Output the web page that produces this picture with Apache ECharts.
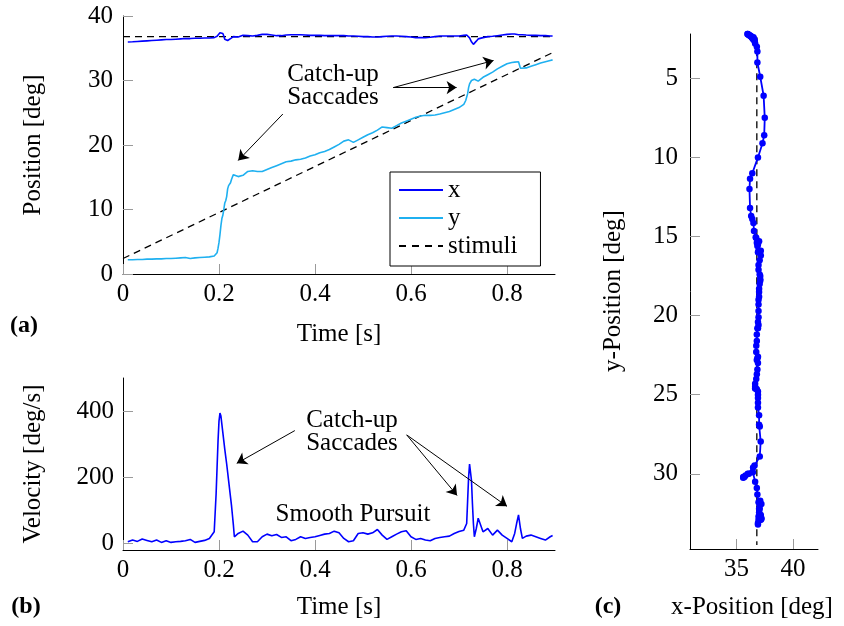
<!DOCTYPE html>
<html>
<head>
<meta charset="utf-8">
<script src="https://cdn.jsdelivr.net/npm/echarts@6/dist/echarts.min.js"></script>
<style>
html, body { margin: 0; padding: 0; background: #ffffff; }
#chart { width: 844px; height: 626px; }
</style>
</head>
<body>
<div id="chart"></div>
<script>
// Eye-tracking recording: sample times [s]
const timeS = [
  0.01, 0.02, 0.03, 0.04, 0.05, 0.06, 0.07, 0.08, 0.09, 0.10,
  0.11, 0.12, 0.13, 0.14, 0.15, 0.16, 0.17, 0.18, 0.19,
  0.194, 0.196, 0.198, 0.200, 0.202, 0.204, 0.206, 0.208, 0.210, 0.212,
  0.214, 0.216, 0.218, 0.220, 0.222, 0.224, 0.226, 0.228, 0.230, 0.232, 0.234,
  0.24, 0.25, 0.26, 0.27, 0.28, 0.29, 0.30, 0.31, 0.32, 0.33,
  0.34, 0.35, 0.36, 0.37, 0.38, 0.39, 0.40, 0.41, 0.42, 0.43,
  0.44, 0.45, 0.46, 0.47, 0.48, 0.49, 0.50, 0.51, 0.52, 0.53,
  0.54, 0.55, 0.56, 0.57, 0.58, 0.59, 0.60, 0.61, 0.62, 0.63,
  0.64, 0.65, 0.66, 0.67, 0.68, 0.69, 0.70, 0.71,
  0.714, 0.716, 0.718, 0.720, 0.722, 0.724, 0.726, 0.728, 0.730, 0.732, 0.734, 0.736,
  0.74, 0.75, 0.76, 0.77, 0.78, 0.79, 0.80, 0.81, 0.816, 0.820,
  0.824, 0.828, 0.832, 0.84, 0.85, 0.86, 0.87, 0.88, 0.89, 0.895
];

// Horizontal gaze position [deg]
const xPos = [
  35.97, 36.0, 36.05, 36.1, 36.15, 36.2, 36.25, 36.3, 36.35, 36.35,
  36.4, 36.45, 36.5, 36.5, 36.55, 36.55, 36.6, 36.6, 36.65,
  36.8, 36.85, 36.85, 37.1, 37.4, 37.5, 37.45, 37.3, 36.9, 36.4,
  36.2, 36.15, 36.2, 36.3, 36.4, 36.5, 36.55, 36.7, 36.8, 36.85, 36.9,
  36.75, 37.0, 36.95, 36.9, 37.0, 37.15, 37.15, 37.05, 36.95, 36.95,
  37.05, 37.1, 37.1, 37.1, 37.05, 37.0, 37.0, 37.0, 36.95, 36.95,
  36.95, 36.95, 36.95, 36.9, 36.9, 36.85, 36.8, 36.8, 36.75, 36.75,
  36.8, 36.85, 36.9, 36.9, 36.85, 36.8, 36.75, 36.65, 36.65, 36.65,
  36.7, 36.8, 36.9, 36.9, 36.9, 36.9, 36.9, 37.0,
  37.0, 37.06, 37.14, 37.06, 36.6, 36.47, 36.0, 35.7, 35.6, 35.6, 35.8, 36.1,
  36.45, 36.65, 36.8, 36.85, 36.95, 37.05, 37.15, 37.2, 37.2, 37.15,
  37.1, 37.2, 37.1, 37.05, 37.0, 37.0, 36.95, 36.95, 36.9, 36.9
];

// Vertical gaze position [deg]
const yPos = [
  2.2, 2.2, 2.25, 2.25, 2.3, 2.3, 2.35, 2.35, 2.4, 2.4,
  2.45, 2.5, 2.55, 2.4, 2.5, 2.55, 2.6, 2.65, 2.8,
  3.0, 3.3, 4.0, 4.9, 6.1, 7.5, 8.6, 9.1, 10.0, 11.0,
  11.35, 12.0, 13.2, 13.7, 13.9, 14.15, 14.65, 15.05, 15.4, 15.6, 15.5,
  15.1, 15.3, 15.9, 16.0, 15.9, 15.9, 16.2, 16.5, 16.8, 17.1,
  17.4, 17.5, 17.7, 17.8, 18.0, 18.3, 18.5, 18.8, 19.0, 19.3,
  19.7, 20.1, 20.6, 20.8, 20.4, 20.8, 21.2, 21.6, 21.9, 22.3,
  22.8, 22.7, 22.6, 23.0, 23.4, 23.7, 24.0, 24.3, 24.5, 24.6,
  24.6, 24.65, 24.8, 25.0, 25.2, 25.5, 25.8, 26.3,
  26.9, 27.0, 27.96, 28.9, 29.47, 29.6, 30.0, 30.2, 30.25, 30.2, 30.1, 30.0,
  29.9, 30.5, 30.9, 31.3, 31.8, 32.2, 32.6, 32.8, 32.85, 32.9,
  32.9, 31.9, 31.7, 31.95, 32.2, 32.45, 32.7, 32.9, 33.1, 33.2
];

// Gaze speed [deg/s]
const velocity = [
  5, 10, 6, 13, 9, 5, 10, 3, 8, 3,
  5, 6, 8, 12, 3, 6, 9, 15, 35,
  150, 230, 310, 370, 394, 385, 360, 335, 310, 285,
  262, 240, 215, 190, 165, 140, 115, 85, 55, 20, 15,
  30, 37, 25, 5, 5, 20, 28, 23, 27, 18,
  20, 8, 12, 20, 15, 18, 20, 24, 28, 30,
  37, 32, 15, 5, 8, 30, 32, 28, 32, 42,
  25, 12, 20, 28, 35, 38, 20, 12, 15, 10,
  8, 15, 18, 20, 22, 30, 36, 40,
  40, 60, 130, 200, 240, 245, 190, 120, 60, 20, 15, 45,
  76, 35, 45, 25, 40, 25, 15, 5, 30, 60,
  86, 45, 15, 22, 25, 20, 15, 10, 20, 24
];

// Target (stimulus) ramp
const stimTime = [0, 0.9];
const stimX = [36.8, 36.8];
const stimY = [2.4, 34.5];

// Tick values
const timeTicks = [0, 0.2, 0.4, 0.6, 0.8];
const posTicks = [0, 10, 20, 30, 40];
const velTicks = [0, 200, 400];
const planeXTicks = [35, 40];
const planeYTicks = [5, 10, 15, 20, 25, 30];

// Annotation arrows: [tail, tip] in data units
const arrowsPos = [
  [[0.333, 24.8], [0.240, 17.6]],
  [[0.563, 28.9], [0.772, 33.1]],
  [[0.563, 28.9], [0.695, 28.9]]
];
const arrowsVel = [
  [[0.358, 341], [0.237, 242]],
  [[0.591, 328], [0.696, 145]],
  [[0.591, 328], [0.800, 112]]
];

const FONT = "'Liberation Serif', 'DejaVu Serif', serif";
const BLUE = '#0000ff';
const CYAN = '#1fb0f0';

function axisStyle(ticks, fmt, margin) {
  return {
    axisLine: { show: true, onZero: false, lineStyle: { color: '#000', width: 1 } },
    axisTick: { show: true, inside: true, length: 10, customValues: ticks,
                lineStyle: { color: '#9a9a9a', width: 1 } },
    axisLabel: { show: true, customValues: ticks, margin: margin,
                 fontFamily: FONT, fontSize: 25, color: '#000',
                 formatter: fmt },
    splitLine: { show: false }
  };
}
const timeFmt = v => (v === 0 ? '0' : v.toFixed(1));
const intFmt = v => String(Math.round(v));

function arrowLines(list) {
  return {
    silent: true,
    animation: false,
    symbol: ['none', 'arrow'],
    symbolSize: 10,
    label: { show: false },
    emphasis: { disabled: true },
    lineStyle: { color: '#000', width: 1, type: 'solid' },
    data: list.map(a => [{ coord: a[0] }, { coord: a[1] }])
  };
}

const dashIcon = 'path://M0,0h7v2h-7z M13,0h7v2h-7z M26,0h7v2h-7z M39,0h5v2h-5z';

const option = {
  animation: false,
  backgroundColor: '#ffffff',
  grid: [
    { left: 123, top: 16, width: 432, height: 258, outerBoundsMode: 'none' },
    { left: 123, top: 378, width: 432, height: 172, outerBoundsMode: 'none' },
    { left: 690, top: 34, width: 128, height: 515, outerBoundsMode: 'none' }
  ],
  xAxis: [
    Object.assign({ gridIndex: 0, type: 'value', min: 0, max: 0.9 }, axisStyle(timeTicks, timeFmt, 8)),
    Object.assign({ gridIndex: 1, type: 'value', min: 0, max: 0.9 }, axisStyle(timeTicks, timeFmt, 8)),
    Object.assign({ gridIndex: 2, type: 'value', min: 30.9, max: 42.2 }, axisStyle(planeXTicks, intFmt, 8))
  ],
  yAxis: [
    Object.assign({ gridIndex: 0, type: 'value', min: 0, max: 40 }, axisStyle(posTicks, intFmt, 10)),
    Object.assign({ gridIndex: 1, type: 'value', min: -20, max: 500 }, axisStyle(velTicks, intFmt, 9)),
    Object.assign({ gridIndex: 2, type: 'value', min: 2.2, max: 34.75, inverse: true }, axisStyle(planeYTicks, intFmt, 12))
  ],
  legend: {
    data: [
      { name: 'x', icon: 'rect' },
      { name: 'y', icon: 'rect' },
      { name: 'stimuli', icon: dashIcon }
    ],
    orient: 'vertical',
    left: 390,
    top: 172,
    itemWidth: 44,
    itemHeight: 2,
    itemGap: 2,
    padding: [5, 23, 7, 9],
    borderColor: '#000',
    borderWidth: 1,
    borderRadius: 0,
    backgroundColor: '#fff',
    selectedMode: false,
    textStyle: { fontFamily: FONT, fontSize: 25, color: '#000', lineHeight: 26 }
  },
  series: [
    {
      name: 'stimuli', type: 'line', xAxisIndex: 0, yAxisIndex: 0,
      data: stimTime.map((t, i) => [t, stimX[i]]),
      symbol: 'none', color: '#000',
      lineStyle: { color: '#000', width: 1.3, type: [7, 5] }, z: 1
    },
    {
      name: 'stimuli', type: 'line', xAxisIndex: 0, yAxisIndex: 0,
      data: stimTime.map((t, i) => [t, stimY[i]]),
      symbol: 'none', color: '#000',
      lineStyle: { color: '#000', width: 1.3, type: [7, 5] }, z: 1
    },
    {
      name: 'x', type: 'line', xAxisIndex: 0, yAxisIndex: 0,
      data: timeS.map((t, i) => [t, xPos[i]]),
      symbol: 'none', color: BLUE,
      lineStyle: { color: BLUE, width: 1.6 }, z: 3,
      markLine: arrowLines(arrowsPos)
    },
    {
      name: 'y', type: 'line', xAxisIndex: 0, yAxisIndex: 0,
      data: timeS.map((t, i) => [t, yPos[i]]),
      symbol: 'none', color: CYAN,
      lineStyle: { color: CYAN, width: 1.6 }, z: 3
    },
    {
      name: 'speed', type: 'line', xAxisIndex: 1, yAxisIndex: 1,
      data: timeS.map((t, i) => [t, velocity[i]]),
      symbol: 'none', color: BLUE,
      lineStyle: { color: BLUE, width: 1.6 }, z: 3,
      markLine: arrowLines(arrowsVel)
    },
    {
      name: 'target path', type: 'line', xAxisIndex: 2, yAxisIndex: 2,
      data: stimX.map((x, i) => [x, stimY[i]]),
      symbol: 'none', color: '#000',
      lineStyle: { color: '#000', width: 1.3, type: [7, 5] }, z: 1
    },
    {
      name: 'gaze path', type: 'line', xAxisIndex: 2, yAxisIndex: 2,
      data: xPos.map((x, i) => [x, yPos[i]]),
      symbol: 'circle', symbolSize: 6.5, showAllSymbol: true, color: BLUE,
      itemStyle: { color: BLUE },
      lineStyle: { color: BLUE, width: 1.8 }, z: 3
    }
  ],
  graphic: [
    { type: 'text', x: 333, y: 86, style: { text: 'Catch-up\nSaccades', font: '25px ' + FONT, fill: '#000', align: 'center', verticalAlign: 'middle', lineHeight: 23 } },
    { type: 'text', x: 352, y: 432, style: { text: 'Catch-up\nSaccades', font: '25px ' + FONT, fill: '#000', align: 'center', verticalAlign: 'middle', lineHeight: 23 } },
    { type: 'text', x: 353, y: 514, style: { text: 'Smooth Pursuit', font: '25px ' + FONT, fill: '#000', align: 'center', verticalAlign: 'middle' } },
    { type: 'text', x: 339, y: 334, style: { text: 'Time [s]', font: '25px ' + FONT, fill: '#000', align: 'center', verticalAlign: 'middle' } },
    { type: 'text', x: 339, y: 607, style: { text: 'Time [s]', font: '25px ' + FONT, fill: '#000', align: 'center', verticalAlign: 'middle' } },
    { type: 'text', x: 752, y: 607, style: { text: 'x-Position [deg]', font: '25px ' + FONT, fill: '#000', align: 'center', verticalAlign: 'middle' } },
    { type: 'text', x: 33, y: 145, rotation: Math.PI / 2, style: { text: 'Position [deg]', font: '25px ' + FONT, fill: '#000', align: 'center', verticalAlign: 'middle' } },
    { type: 'text', x: 33, y: 464, rotation: Math.PI / 2, style: { text: 'Velocity [deg/s]', font: '25px ' + FONT, fill: '#000', align: 'center', verticalAlign: 'middle' } },
    { type: 'text', x: 613, y: 291, rotation: Math.PI / 2, style: { text: 'y-Position [deg]', font: '25px ' + FONT, fill: '#000', align: 'center', verticalAlign: 'middle' } },
    { type: 'text', x: 24, y: 326, style: { text: '(a)', font: 'bold 24px ' + FONT, fill: '#000', align: 'center', verticalAlign: 'middle' } },
    { type: 'text', x: 26, y: 607, style: { text: '(b)', font: 'bold 24px ' + FONT, fill: '#000', align: 'center', verticalAlign: 'middle' } },
    { type: 'text', x: 608, y: 607, style: { text: '(c)', font: 'bold 24px ' + FONT, fill: '#000', align: 'center', verticalAlign: 'middle' } }
  ]
};

const chart = echarts.init(document.getElementById('chart'), null, { renderer: 'canvas' });
chart.setOption(option);
</script>
</body>
</html>
